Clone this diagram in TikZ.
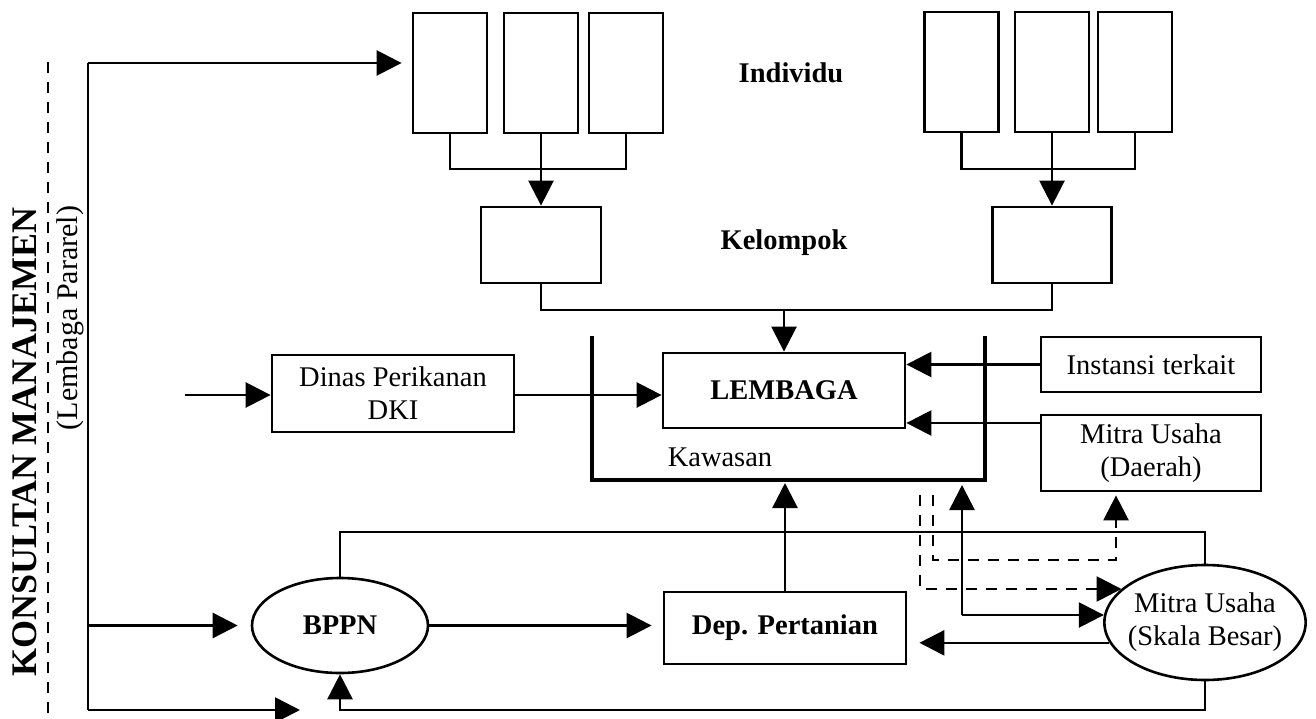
\documentclass[tikz,border=0pt]{standalone}
\usepackage{fontspec}
\setmainfont{Liberation Serif}
\usetikzlibrary{arrows.meta,shapes.geometric}
\begin{document}
\begin{tikzpicture}[x=1pt,y=-1pt,
  line width=2.6pt,
  box/.style={draw,rectangle,line width=2.8pt,inner sep=0pt,align=center,font=\fontsize{28.5}{33}\selectfont},
  ell/.style={draw,ellipse,line width=2.6pt,inner sep=0pt,align=center,font=\fontsize{28.5}{33}\selectfont},
  lbl/.style={font=\fontsize{28.5}{33}\selectfont\bfseries},
  txt/.style={font=\fontsize{28.5}{33}\selectfont},
  tri/.style={-{Triangle[length=25pt,width=25pt]}},
  dsh/.style={dash pattern=on 11pt off 9pt},
]
\useasboundingbox (0,0) rectangle (1316,719);

% Individu boxes
\node[box,minimum width=74pt,minimum height=120pt] (i1) at (450,73) {};
\node[box,minimum width=74pt,minimum height=120pt] (i2) at (541,73) {};
\node[box,minimum width=74pt,minimum height=120pt] (i3) at (626,73) {};
\node[box,minimum width=74pt,minimum height=120pt] (i4) at (961.5,72) {};
\node[box,minimum width=74pt,minimum height=120pt] (i5) at (1052,72) {};
\node[box,minimum width=74pt,minimum height=120pt] (i6) at (1135,72) {};
\node[lbl] (tind) at (791,73) {Individu};

% Kelompok boxes
\node[box,minimum width=120pt,minimum height=76pt] (k1) at (541,245) {};
\node[box,minimum width=119pt,minimum height=76pt] (k2) at (1052,245) {};
\node[lbl] (tkel) at (784,243) {Kelompok};

\coordinate (h1) at (0,169);
\draw (i1.south) -- (i1.south |- h1) -- (i3.south |- h1) -- (i3.south);
\draw (i4.south) -- (i4.south |- h1) -- (i6.south |- h1) -- (i6.south);
\draw[tri] (i2.south) -- (k1.north);
\draw[tri] (i5.south) -- (k2.north);

% Lembaga and Kawasan
\node[box,minimum width=242pt,minimum height=75pt,font=\fontsize{28.5}{33}\selectfont\bfseries] (lem) at (784,390.5) {LEMBAGA};
\coordinate (kawTL) at (592,336);
\coordinate (kawBL) at (592,480);
\coordinate (kawBR) at (985,480);
\coordinate (kawTR) at (985,336);
\draw[line width=4.8pt] (kawTL) -- (kawBL) -- (kawBR) -- (kawTR);
\node[txt] (tkaw) at (720,457) {Kawasan};

\coordinate (h2) at (0,310);
\draw (k1.south) -- (k1.south |- h2) -- (k2.south |- h2) -- (k2.south);
\draw[tri] (lem.north |- h2) -- (lem.north);

% Dinas
\node[box,minimum width=242pt,minimum height=77pt] (din) at (393,393.5) {Dinas Perikanan\\DKI};
\coordinate (dinin) at (185,395);
\draw[tri] (dinin) -- (din.west |- dinin);
\draw[tri] (din.east |- dinin) -- (lem.west |- dinin);

% Instansi, Mitra Daerah
\node[box,minimum width=220pt,minimum height=55pt] (inst) at (1151,364.5) {Instansi terkait};
\node[box,minimum width=220pt,minimum height=76pt] (mdae) at (1151,453) {Mitra Usaha\\(Daerah)};
\draw[tri] (inst.west) -- (lem.east |- inst.west);
\coordinate (h3) at (0,423);
\draw[tri] (mdae.west |- h3) -- (lem.east |- h3);

% Dep. Pertanian
\node[box,minimum width=242pt,minimum height=72pt,font=\fontsize{28.5}{33}\selectfont\bfseries] (dep) at (785,628) {Dep. Pertanian};
\coordinate (kb) at (0,483);
\draw[tri] (dep.north) -- (dep.north |- kb);

% BPPN and Mitra Skala Besar
\node[ell,minimum width=176pt,minimum height=95pt,font=\fontsize{28.5}{33}\selectfont\bfseries] (bppn) at (340,625.5) {BPPN};
\node[ell,minimum width=200pt,minimum height=115pt,inner xsep=-6pt] (msb) at (1205,622.5) {Mitra Usaha\\(Skala Besar)};

% left consultant lines
\coordinate (lt) at (88,63);
\coordinate (lb) at (88,710);
\coordinate (bend) at (300,710);
\draw (lt) -- (lb);
\draw[tri,shorten >=10pt] (lt) -- (i1.west |- lt);
\draw[tri,shorten >=13pt] (lt |- bppn.west) -- (bppn.west);
\draw[tri] (lb) -- (bend);

\draw[tri,shorten >=11pt] (bppn.east) -- (dep.west |- bppn.east);
\coordinate (h4) at (0,532);
\draw (bppn.north) -- (bppn.north |- h4) -- (msb.north |- h4) -- (msb.north);
\coordinate (h5) at (0,710);
\draw[tri] (msb.south) -- (msb.south |- h5) -- (bppn.south |- h5) -- (bppn.south);

% Mitra Skala Besar links
\coordinate (dc) at (962,615);
\coordinate (kb2) at (962,485);
\draw[tri] (dc) -- (kb2);
\draw[tri] (dc) -- (dc -| msb.176);
\draw[tri,shorten >=12pt] (msb.192.5) -- (dep.east |- msb.192.5);

% dashed links
\coordinate (d1) at (920,495);
\coordinate (d1b) at (920,589);
\draw[dsh,tri] (d1) -- (d1b) -- (d1b -| msb.158);
\coordinate (d2) at (933,495);
\coordinate (d2b) at (933,560);
\coordinate (d2c) at (1116,560);
\draw[dsh,tri,shorten >=3pt] (d2) -- (d2b) -- (d2c) -- (d2c |- mdae.south);

% consultant
\coordinate (dtop) at (48,62);
\coordinate (dbot) at (48,716);
\draw[dsh] (dtop) -- (dbot);
\node[rotate=90,font=\fontsize{36}{40}\selectfont\bfseries] (kons) at (25,442) {KONSULTAN MANAJEMEN};
\node[rotate=90,font=\fontsize{30}{34}\selectfont] (lemb) at (70,318) {(Lembaga Pararel)};
\end{tikzpicture}
\end{document}
